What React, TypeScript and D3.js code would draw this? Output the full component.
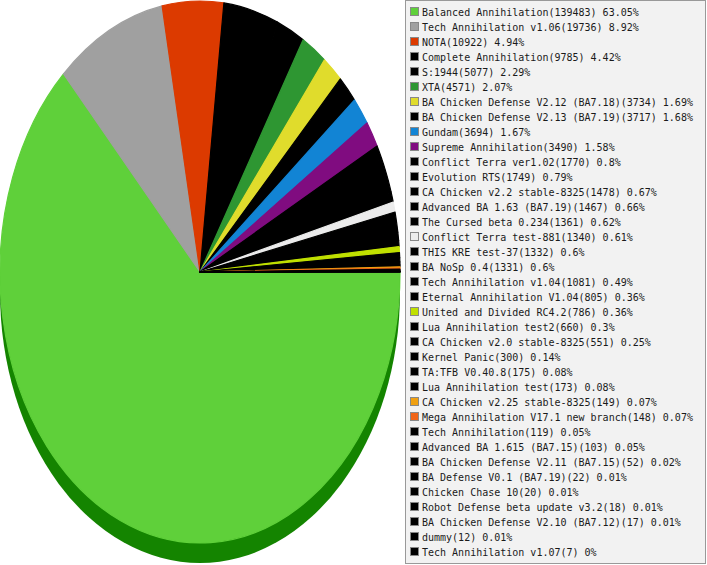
import { useEffect, useRef } from 'react';
import * as d3 from 'd3';

const names = [
  'Balanced Annihilation',
  'Tech Annihilation v1.06',
  'NOTA',
  'Complete Annihilation',
  'S:1944',
  'XTA',
  'BA Chicken Defense V2.12 (BA7.18)',
  'BA Chicken Defense V2.13 (BA7.19)',
  'Gundam',
  'Supreme Annihilation',
  'Conflict Terra ver1.02',
  'Evolution RTS',
  'CA Chicken v2.2 stable-8325',
  'Advanced BA 1.63 (BA7.19)',
  'The Cursed beta 0.234',
  'Conflict Terra test-881',
  'THIS KRE test-37',
  'BA NoSp 0.4',
  'Tech Annihilation v1.04',
  'Eternal Annihilation V1.04',
  'United and Divided RC4.2',
  'Lua Annihilation test2',
  'CA Chicken v2.0 stable-8325',
  'Kernel Panic',
  'TA:TFB V0.40.8',
  'Lua Annihilation test',
  'CA Chicken v2.25 stable-8325',
  'Mega Annihilation V17.1 new branch',
  'Tech Annihilation',
  'Advanced BA 1.615 (BA7.15)',
  'BA Chicken Defense V2.11 (BA7.15)',
  'BA Defense V0.1 (BA7.19)',
  'Chicken Chase 10',
  'Robot Defense beta update v3.2',
  'BA Chicken Defense V2.10 (BA7.12)',
  'dummy',
  'Tech Annihilation v1.07',
];

const counts = [
  139483, 19736, 10922, 9785, 5077, 4571, 3734, 3717, 3694, 3490, 1770, 1749,
  1478, 1467, 1361, 1340, 1332, 1331, 1081, 805, 786, 660, 551, 300, 175, 173,
  149, 148, 119, 103, 52, 22, 20, 18, 17, 12, 7,
];

const colors = [
  '#5fd03a', '#a0a0a0', '#dc3a00', '#000000', '#000000', '#2e9632', '#e0dc2c',
  '#000000', '#1284d4', '#800c80', '#000000', '#000000', '#000000', '#000000',
  '#000000', '#ececec', '#000000', '#000000', '#000000', '#000000', '#c0e000',
  '#000000', '#000000', '#000000', '#000000', '#000000', '#f0a010', '#f06418',
  '#000000', '#000000', '#000000', '#000000', '#000000', '#000000', '#000000',
  '#000000', '#000000',
];

const sideColor = '#148400';

export default function App() {
  const svgRef = useRef<SVGSVGElement>(null);
  const width = 707;
  const height = 565;

  useEffect(() => {
    if (!svgRef.current) return;
    const svg = d3.select(svgRef.current);
    svg.selectAll('*').remove();

    const cx = 200;
    const cy = 272;
    const rx = 200;
    const ry = 271;
    const depth = 20;

    const total = d3.sum(counts);

    // pie side (only the lower half shows)
    svg.append('ellipse')
      .attr('cx', cx)
      .attr('cy', cy + depth)
      .attr('rx', rx)
      .attr('ry', ry)
      .attr('fill', sideColor);
    svg.append('rect')
      .attr('x', cx - rx)
      .attr('y', cy)
      .attr('width', rx * 2)
      .attr('height', depth)
      .attr('fill', sideColor);

    // top face: circle pie squashed into an ellipse
    const pie = d3.pie<number>()
      .sort(null)
      .value(d => d)
      .startAngle(Math.PI / 2)
      .endAngle(Math.PI / 2 + Math.PI * 2);

    const arc = d3.arc<d3.PieArcDatum<number>>()
      .innerRadius(0)
      .outerRadius(rx);

    const g = svg.append('g')
      .attr('transform', `translate(${cx},${cy}) scale(1,${ry / rx})`);

    g.selectAll('path')
      .data(pie(counts))
      .enter()
      .append('path')
      .attr('d', arc)
      .attr('fill', (d, i) => colors[i])
      .attr('stroke', (d, i) => colors[i])
      .attr('stroke-width', 1.2)
      .attr('stroke-linejoin', 'round')
      .attr('vector-effect', 'non-scaling-stroke');

    // legend
    const lx = 405.5;
    const legend = svg.append('g');
    legend.append('rect')
      .attr('x', lx)
      .attr('y', 0.5)
      .attr('width', 300)
      .attr('height', 563)
      .attr('fill', '#f2f2f2')
      .attr('stroke', '#999999');

    names.forEach((name, i) => {
      const y = 15 * i;
      const pct = Math.round((counts[i] / total) * 10000) / 100;
      legend.append('rect')
        .attr('x', 410.5)
        .attr('y', y + 7.5)
        .attr('width', 8)
        .attr('height', 8)
        .attr('fill', colors[i])
        .attr('stroke', '#888888');
      legend.append('text')
        .attr('x', 422)
        .attr('y', y + 16)
        .attr('font-family', '"DejaVu Sans Mono", monospace')
        .attr('font-size', 10)
        .attr('fill', '#1a1a1a')
        .text(`${name}(${counts[i]}) ${pct}%`);
    });
  }, []);

  return (
    <svg
      ref={svgRef}
      width={width}
      height={height}
      style={{ position: 'absolute', left: 0, top: 0, background: '#ffffff' }}
    />
  );
}
